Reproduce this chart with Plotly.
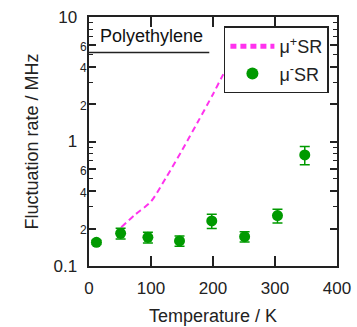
import plotly.graph_objects as go
import numpy as np

# mu- SR data (green points)
temp_minus = [12, 51, 95, 146, 198, 251, 304, 348]
rate_minus = [0.155, 0.183, 0.170, 0.159, 0.230, 0.172, 0.254, 0.78]
err_minus = [0.006, 0.018, 0.017, 0.015, 0.030, 0.016, 0.032, 0.13]

# mu+ SR curve (magenta dashed)
temp_plus = [52, 75, 100, 125, 150, 175, 200, 215, 240]
rate_plus = [0.205, 0.26, 0.33, 0.52, 0.85, 1.42, 2.4, 3.35, 5.6]

# axis ticks
y_major = [0.1, 0.2, 0.4, 0.6, 1, 2, 4, 6, 10]
y_major_text = ["0.1", "2", "4", "6", "1", "2", "4", "6", "10"]
y_minor = [0.3, 0.5, 0.7, 0.8, 0.9, 3, 5, 7, 8, 9]
x_ticks = [0, 100, 200, 300, 400]

big = {0.1, 1, 10}
ticktext = [t + "&nbsp;&nbsp;" if v in big else "<span style='font-size:12px'>%s</span>" % t
            for v, t in zip(y_major, y_major_text)]

FONT = "Liberation Sans, Arial, sans-serif"
GREEN = "#009a00"
MAGENTA = "#ff33ee"

fig = go.Figure()
fig.add_trace(go.Scatter(
    x=temp_plus, y=rate_plus, mode="lines", name="μ<sup>+</sup>SR", legendgroup="a",
    line=dict(color=MAGENTA, width=2, dash="6px,4px", shape="spline", smoothing=0.8),
))
fig.add_trace(go.Scatter(
    x=temp_minus, y=rate_minus, mode="markers", name="μ<sup>-</sup>SR", legendgroup="b",
    marker=dict(color=GREEN, size=11, line=dict(width=0)),
    error_y=dict(type="data", array=err_minus, color=GREEN, thickness=1.5, width=5),
))

fig.add_shape(type="line", xref="x", yref="paper", x0=0, x1=194, y0=0.857, y1=0.857,
              line=dict(color="#222", width=1.5))
fig.add_annotation(text="Polyethylene", xref="x", yref="paper", x=15, y=0.925,
                   xanchor="left", yanchor="middle", showarrow=False,
                   font=dict(family=FONT, size=18, color="#111"))

fig.update_layout(
    width=357, height=327,
    margin=dict(l=89, r=20, t=17, b=61, autoexpand=False),
    paper_bgcolor="white", plot_bgcolor="white",
    font=dict(family=FONT, size=17, color="#222"),
    showlegend=True,
    legend=dict(x=0.544, y=0.962, xanchor="left", yanchor="top",
                bgcolor="white", bordercolor="#222", borderwidth=1.5,
                font=dict(family=FONT, size=18, color="#222"),
                traceorder="grouped", tracegroupgap=1, itemsizing="constant",
                itemwidth=44),
    xaxis=dict(
        range=[0, 400], tickvals=x_ticks, ticks="inside", ticklen=10, tickwidth=1.5,
        tickcolor="#222", showline=True, linecolor="#222", linewidth=2, mirror="ticks",
        showgrid=False, zeroline=False, ticklabelstandoff=6, automargin=False,
        title=dict(text="Temperature / K", font=dict(size=18), standoff=12),
    ),
    yaxis=dict(
        type="log", range=[-1, 1], tickvals=y_major, ticktext=ticktext,
        ticks="inside", ticklen=7, tickwidth=1.5, tickcolor="#222",
        minor=dict(tickvals=y_minor, ticks="inside", ticklen=4, tickwidth=1.2, tickcolor="#222"),
        showline=True, linecolor="#222", linewidth=2, mirror="ticks",
        showgrid=False, zeroline=False, ticklabelstandoff=-3, automargin=False,
        title=dict(text="Fluctuation rate / MHz", font=dict(size=18), standoff=10),
    ),
)

fig.write_html("out.html", config={"displayModeBar": False},
               post_script="document.body.style.margin='0';document.body.style.padding='0';document.body.style.overflow='hidden';")
